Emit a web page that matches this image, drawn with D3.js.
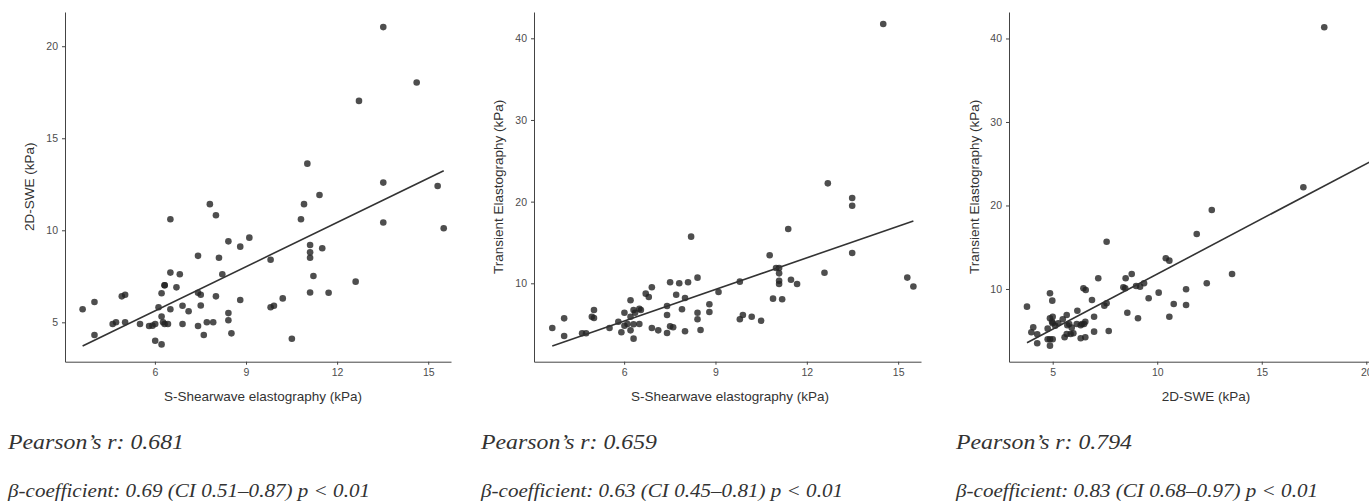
<!DOCTYPE html>
<html><head><meta charset="utf-8">
<script src="https://cdn.jsdelivr.net/npm/d3@7"></script>
<style>body{margin:0;background:#fff;overflow:hidden} svg{display:block}</style>
</head><body>
<svg id="c" width="1369" height="502"></svg>
<script>
// ---------- DATA ----------
// Panel 1: S-Shearwave elastography (x) vs 2D-SWE (y)
const p1X = [3.62,4.01,4.01,4.61,4.72,4.91,5.02,5.02,5.51,5.81,5.92,6.01,6.01,6.12,6.22,6.22,6.22,6.27,6.32,6.32,6.32,6.43,6.51,6.51,6.51,6.71,6.82,6.91,6.91,7.11,7.42,7.42,7.42,7.51,7.51,7.61,7.71,7.81,7.92,8.01,8.01,8.11,8.22,8.42,8.42,8.42,8.52,8.81,8.81,9.11,9.81,9.81,9.92,10.21,10.51,10.81,10.91,11.02,11.11,11.11,11.11,11.11,11.22,11.42,11.51,11.72,12.61,12.72,13.52,13.52,13.52,14.62,15.31,15.51];
const p1Y = [5.71,6.10,4.31,4.91,5.00,6.41,6.50,5.00,4.91,4.80,4.82,4.91,4.00,5.82,5.31,6.58,3.80,5.00,7.01,7.01,4.91,4.91,7.70,10.60,5.71,6.90,7.61,5.90,4.91,5.60,8.61,6.61,4.80,6.50,5.91,4.31,5.00,11.42,5.00,10.82,6.41,8.51,7.61,9.40,5.50,5.11,4.40,9.11,6.21,9.60,8.40,5.82,5.90,6.30,4.11,10.60,11.42,13.62,9.20,8.80,8.51,6.62,7.52,11.92,9.02,6.61,7.21,17.03,21.04,12.59,10.42,18.03,12.41,10.11];
// Panel 2: S-Shearwave elastography (x) vs Transient Elastography (y)
const p2X = [3.64,4.03,4.03,4.62,4.75,4.94,5.01,5.01,5.52,5.81,5.91,6.01,6.01,6.11,6.21,6.21,6.21,6.31,6.36,6.31,6.31,6.50,6.55,6.50,6.71,6.81,6.91,6.91,7.12,7.41,7.41,7.41,7.51,7.51,7.61,7.71,7.81,7.90,8.00,8.00,8.10,8.20,8.41,8.41,8.41,8.51,8.80,8.80,9.10,9.80,9.80,9.90,10.19,10.50,10.78,10.89,10.99,11.09,11.09,11.09,11.09,11.19,11.39,11.48,11.68,12.58,12.69,13.49,13.49,13.49,14.51,15.30,15.50];
const p2Y = [4.53,5.71,3.55,3.88,3.88,5.91,6.73,5.75,4.53,5.30,4.00,6.40,4.81,5.02,7.92,5.91,4.24,6.73,6.40,4.98,3.22,6.89,6.73,5.02,8.73,8.32,9.51,4.53,4.24,7.22,6.12,3.91,10.12,4.73,4.61,8.60,10.00,6.82,8.20,4.12,10.12,15.71,10.69,6.40,5.59,4.28,7.43,6.49,8.93,10.20,5.59,6.12,5.91,5.42,13.43,8.12,11.87,11.87,11.22,10.32,9.92,8.04,16.65,10.44,9.92,11.30,22.24,20.44,19.50,13.71,41.75,10.70,9.60];
// Panel 3: 2D-SWE (x) vs Transient Elastography (y)
const p3X = [3.77,3.98,4.07,4.26,4.26,4.76,4.76,4.87,5.00,4.87,4.87,4.98,4.87,5.00,5.00,5.12,5.27,5.48,5.57,5.67,5.67,5.79,5.86,5.91,5.99,6.15,6.18,6.34,6.40,6.50,6.56,6.47,6.58,6.56,6.88,6.98,6.98,7.18,7.47,7.58,7.58,7.68,8.38,8.47,8.49,8.57,8.78,8.99,9.18,9.37,9.08,9.59,10.07,10.41,10.58,10.58,10.79,11.38,11.38,11.89,12.37,12.61,13.58,16.99,17.99,4.97,6.34,5.70];
const p3Y = [7.88,4.81,5.41,4.57,3.50,5.25,3.98,3.98,3.98,3.21,9.48,8.60,6.49,6.68,5.89,5.60,5.89,6.37,4.22,6.89,4.60,5.81,4.61,5.37,4.69,5.81,7.40,4.10,5.81,5.81,6.08,10.08,9.88,4.22,8.68,6.68,4.89,11.28,8.00,8.29,15.66,4.97,10.20,10.08,11.28,7.16,11.80,10.36,10.28,10.68,6.49,8.89,9.56,13.68,13.39,6.68,8.20,9.96,8.08,16.59,10.68,19.46,11.80,22.18,41.34,6.08,5.65,5.65];
// fitted regression lines: [intercept, slope], [xStart, xEnd]
const fit1 = [0.814, 0.801], fitRange1 = [3.62, 15.51];
const fit2 = [-2.36, 1.29],  fitRange2 = [3.64, 15.50];
const fit3 = [-1.42, 1.321], fitRange3 = [3.77, 21.04];
// tick labels
const xTicks1 = [6, 9, 12, 15], yTicks1 = [5, 10, 15, 20];
const xTicks2 = [6, 9, 12, 15], yTicks2 = [10, 20, 30, 40];
const xTicks3 = [5, 10, 15, 20], yTicks3 = [10, 20, 30, 40];
const xTitles = ["S-Shearwave elastography (kPa)", "S-Shearwave elastography (kPa)", "2D-SWE (kPa)"];
const yTitles = ["2D-SWE (kPa)", "Transient Elastography (kPa)", "Transient Elastography (kPa)"];
const pearson = ["Pearson\u2019s r: 0.681", "Pearson\u2019s r: 0.659", "Pearson\u2019s r: 0.794"];
const betas = ["\u03b2-coefficient: 0.69 (CI 0.51\u20130.87) p < 0.01",
               "\u03b2-coefficient: 0.63 (CI 0.45\u20130.81) p < 0.01",
               "\u03b2-coefficient: 0.83 (CI 0.68\u20130.97) p < 0.01"];

// ---------- LAYOUT ----------
const layout = [
  {x0:65,   x1:451,  xd:[3.04,15.75], yd:[2.86,21.86], yTitleX:34,  xTitleX:263,  textX:8},
  {x0:534,  x1:921,  xd:[3.04,15.75], yd:[0.40,43.22], yTitleX:503, xTitleX:730,  textX:481},
  {x0:1009, x1:1406, xd:[2.91,21.9],  yd:[1.29,43.17], yTitleX:979, xTitleX:1206, textX:956}
];
const yTop = 12, yBot = 361.7;
const panels = [
  {X:p1X, Y:p1Y, fit:fit1, fr:fitRange1, xt:xTicks1, yt:yTicks1},
  {X:p2X, Y:p2Y, fit:fit2, fr:fitRange2, xt:xTicks2, yt:yTicks2},
  {X:p3X, Y:p3Y, fit:fit3, fr:fitRange3, xt:xTicks3, yt:yTicks3}
];

const svg = d3.select("#c");
const sans = "'Liberation Sans', Arial, sans-serif";
const serif = "'Liberation Serif', 'DejaVu Serif', serif";

panels.forEach((p, i) => {
  const L = layout[i];
  const x = d3.scaleLinear().domain(L.xd).range([L.x0, L.x1]);
  const y = d3.scaleLinear().domain(L.yd).range([yBot, yTop]);
  const g = svg.append("g");

  const xa = g.append("g").attr("transform", `translate(0,${yBot})`)
    .call(d3.axisBottom(x).tickValues(p.xt).tickSize(3).tickSizeOuter(0).tickPadding(4));
  const ya = g.append("g").attr("transform", `translate(${L.x0},0)`)
    .call(d3.axisLeft(y).tickValues(p.yt).tickSize(3).tickSizeOuter(0).tickPadding(4));
  [xa, ya].forEach(a => {
    a.select(".domain").attr("stroke", "#444").attr("stroke-width", 1);
    a.selectAll(".tick line").attr("stroke", "#444");
    a.selectAll(".tick text").attr("fill", "#4d4d4d").attr("font-size", 10.5).attr("font-family", sans);
  });

  // points
  g.append("g").selectAll("circle").data(p.X.map((v, k) => [v, p.Y[k]])).join("circle")
    .attr("cx", d => x(d[0])).attr("cy", d => y(d[1])).attr("r", 3.3)
    .attr("fill", "#222").attr("fill-opacity", 0.8);

  // regression line
  const line = d3.line().x(d => x(d)).y(d => y(p.fit[0] + p.fit[1] * d));
  g.append("path").datum(p.fr).attr("d", line)
    .attr("fill", "none").attr("stroke", "#333").attr("stroke-width", 1.6);

  // axis titles
  g.append("text").attr("x", L.xTitleX).attr("y", 401).attr("text-anchor", "middle")
    .attr("font-family", sans).attr("font-size", 13.5).attr("fill", "#333").text(xTitles[i]);
  g.append("text").attr("transform", `translate(${L.yTitleX},${(yTop + yBot) / 2}) rotate(-90)`)
    .attr("text-anchor", "middle").attr("font-family", sans).attr("font-size", 13.5)
    .attr("fill", "#333").text(yTitles[i]);

  // stats text
  svg.append("text").attr("x", L.textX).attr("y", 449).attr("font-family", serif)
    .attr("font-style", "italic").attr("font-size", 21).attr("fill", "#333")
    .attr("textLength", 176).attr("lengthAdjust", "spacingAndGlyphs").text(pearson[i]);
  svg.append("text").attr("x", L.textX).attr("y", 497).attr("font-family", serif)
    .attr("font-style", "italic").attr("font-size", 19).attr("fill", "#333")
    .attr("textLength", 362).attr("lengthAdjust", "spacingAndGlyphs").text(betas[i]);
});
</script>
</body></html>
